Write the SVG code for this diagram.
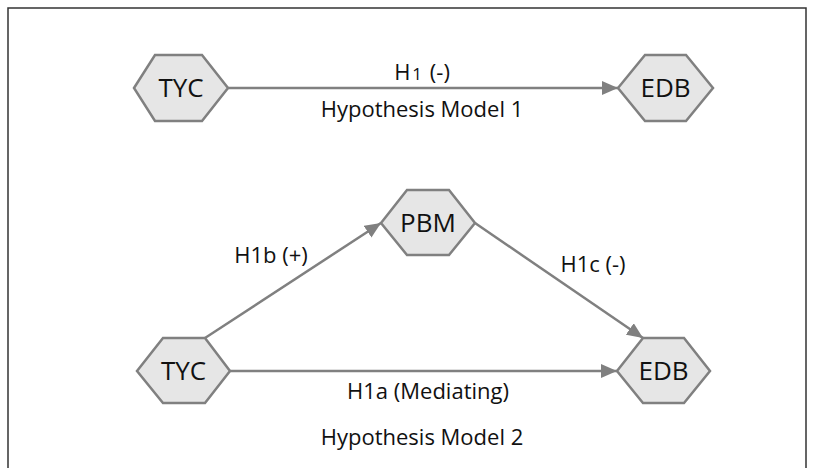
<svg xmlns="http://www.w3.org/2000/svg" width="813" height="468" viewBox="0 0 813 468">
<style>
.hex{fill:#e6e6e6;stroke:#808080;stroke-width:2.5;stroke-linejoin:miter}
.node{font-family:"Open Sans","Noto Sans","Liberation Sans",sans-serif;font-size:26px;fill:#111;text-anchor:middle}
.lbl{font-family:"Open Sans","Noto Sans","Liberation Sans",sans-serif;font-size:22px;fill:#111;text-anchor:middle}
.edge{stroke:#808080;stroke-width:2.5;fill:none;marker-end:url(#arr)}
</style>
<defs>
<marker id="arr" markerUnits="userSpaceOnUse" markerWidth="16" markerHeight="14" viewBox="0 0 16 14" refX="16" refY="7" orient="auto">
<path d="M0,0 L16,7 L0,14 z" fill="#808080"/>
</marker>
</defs>
<rect x="0" y="0" width="813" height="468" fill="#fff"/>
<path d="M8,470 V8 H806 V470" fill="none" stroke="#333" stroke-width="1.5"/>
<g id="connectors">
<line class="edge" x1="228" y1="88" x2="618" y2="88"/>
<line class="edge" x1="205" y1="338" x2="381" y2="223"/>
<line class="edge" x1="475" y1="223" x2="643" y2="338"/>
<line class="edge" x1="230" y1="371" x2="617" y2="371"/>
</g>
<g id="tyc1">
<polygon class="hex" points="134,88 155,55 202,55 228,88 202,121 155,121"/>
<text class="node" x="181" y="97">TYC</text>
</g>
<g id="edb1">
<polygon class="hex" points="618,88 645,55 686,55 713,88 686,121 645,121"/>
<text class="node" x="665.5" y="97">EDB</text>
</g>
<g id="pbm">
<polygon class="hex" points="381,223 407,190 449,190 475,223 449,255 407,255"/>
<text class="node" x="428" y="232">PBM</text>
</g>
<g id="tyc2">
<polygon class="hex" points="137,371 163,338 205,338 230,371 205,403 163,403"/>
<text class="node" x="183.5" y="380">TYC</text>
</g>
<g id="edb2">
<polygon class="hex" points="617,371 643,338 684,338 710,371 684,403 643,403"/>
<text class="node" x="663.5" y="380">EDB</text>
</g>
<g id="labels">
<text class="lbl" x="422" y="80">H<tspan font-size="17" dx="2">1</tspan><tspan dx="2"> (-)</tspan></text>
<text class="lbl" x="422" y="117">Hypothesis Model 1</text>
<text class="lbl" x="271" y="263">H1b (+)</text>
<text class="lbl" x="593" y="272">H1c (-)</text>
<text class="lbl" x="428" y="399">H1a (Mediating)</text>
<text class="lbl" x="422" y="445">Hypothesis Model 2</text>
</g>
</svg>
